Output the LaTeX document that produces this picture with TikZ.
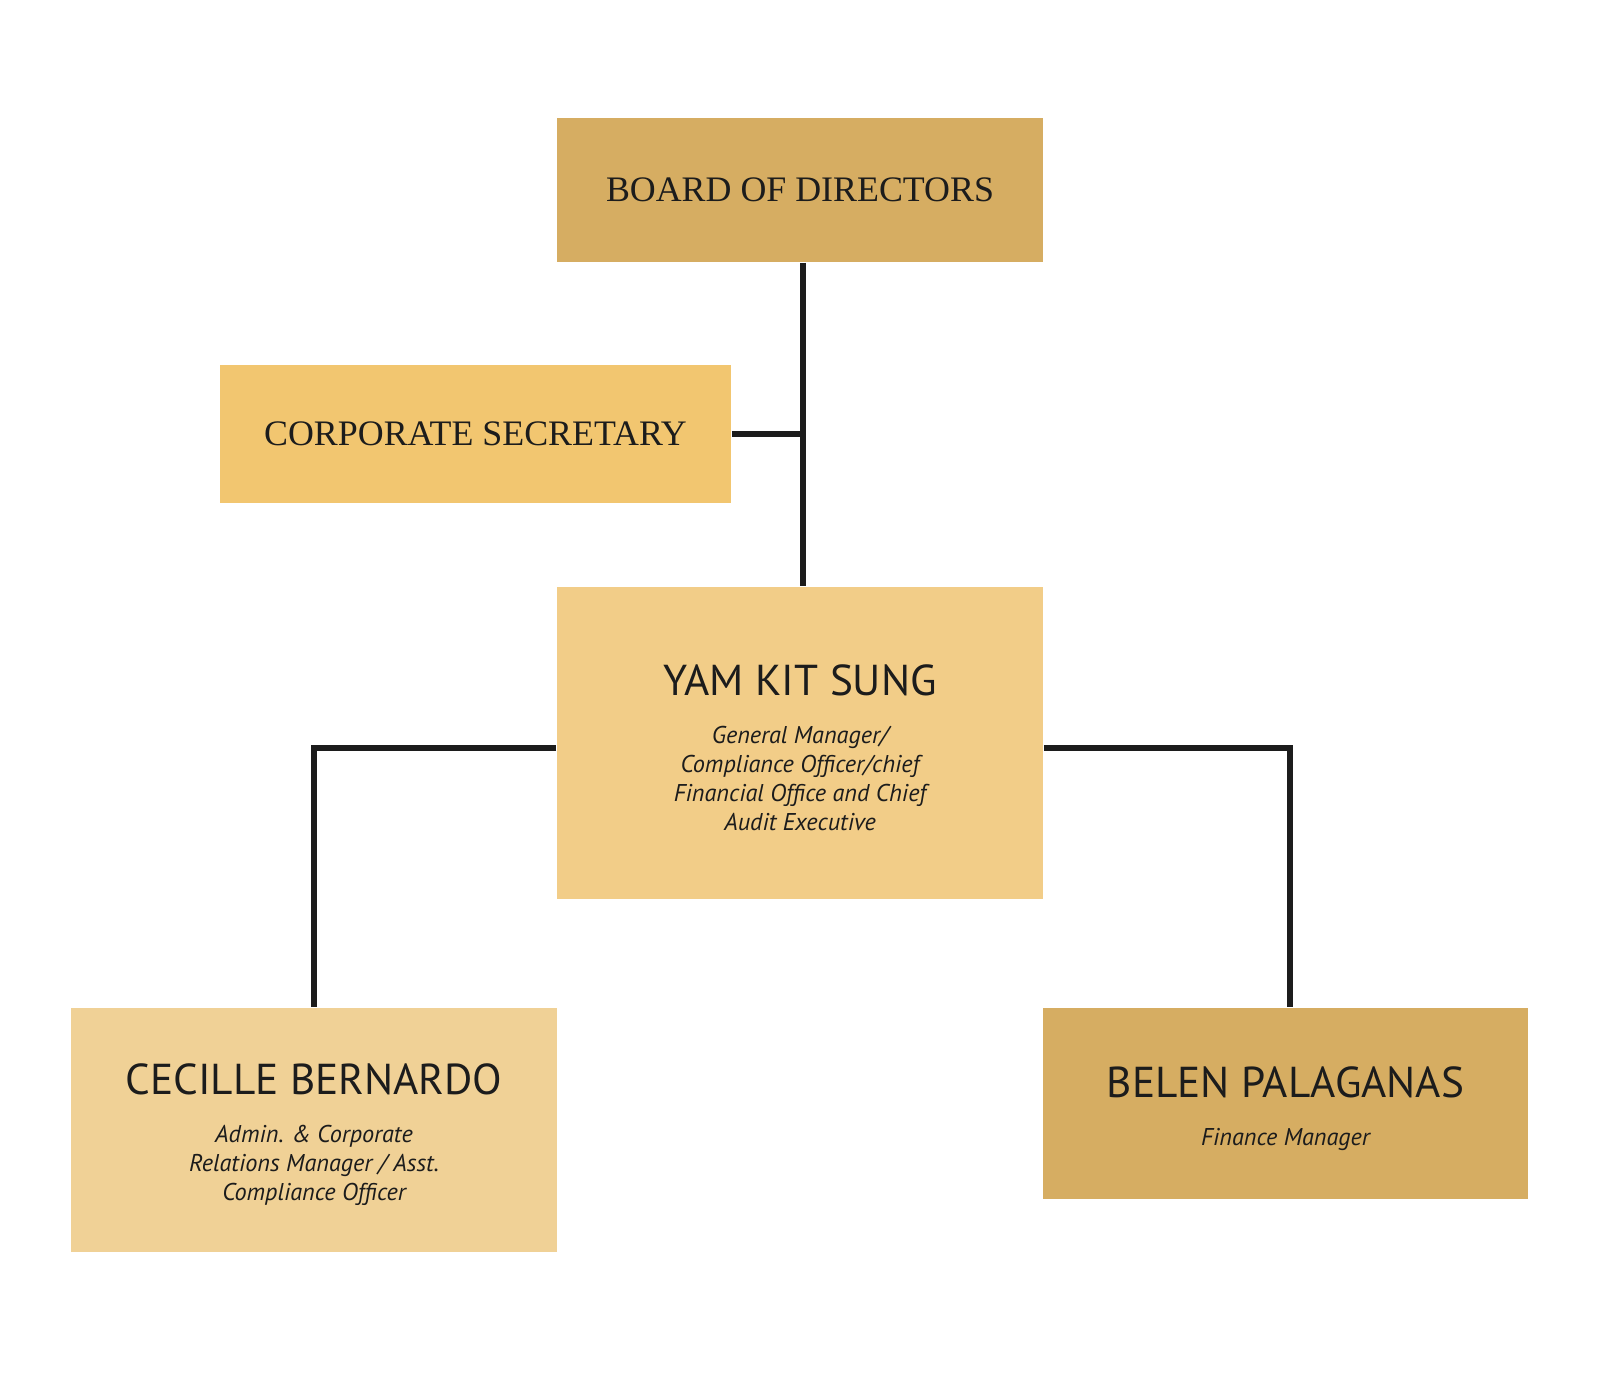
\documentclass[tikz,border=0pt]{standalone}
\usepackage{fontspec}
\setmainfont{Liberation Serif}
\newfontfamily\namefont{PT Sans}
\definecolor{gold}{HTML}{D6AD62}
\definecolor{sand}{HTML}{F2C670}
\definecolor{wheat}{HTML}{F2CD88}
\definecolor{cream}{HTML}{F0D196}
\definecolor{ink}{HTML}{1C1C1C}
\newcommand{\pname}[1]{{\upshape\fontsize{12.3}{14}\selectfont\rule{0pt}{11.5pt}#1}}
\tikzset{x=0.01cm, y=-0.01cm,
  title/.style={rectangle, inner sep=0pt, text=ink, font=\fontsize{10.2}{12}\selectfont},
  person/.style={rectangle, inner sep=0pt, text=ink, align=center, font=\namefont\itshape\fontsize{6.9}{8.2}\selectfont},
  link/.style={draw=ink, line width=0.06cm}}

\begin{document}
\begin{tikzpicture}
\path[fill=white] (0,0) rectangle (1600,1384);
\node[title, fill=gold, minimum width=4.86cm, minimum height=1.44cm] (bod) at (800,190) {BOARD OF DIRECTORS};
\node[title, fill=sand, minimum width=5.11cm, minimum height=1.38cm] (cs) at (475.5,434) {CORPORATE SECRETARY};
\node[person, fill=wheat, minimum width=4.86cm, minimum height=3.12cm] (gm) at (800,743)
  {\pname{YAM KIT SUNG}\\[5.5pt] General Manager/\\Compliance Officer/chief\\Financial Office and Chief\\Audit Executive};
\node[person, fill=cream, minimum width=4.86cm, minimum height=2.44cm] (ac) at (314,1130)
  {\pname{CECILLE BERNARDO}\\[5.5pt] Admin. \& Corporate\\Relations Manager / Asst.\\Compliance Officer};
\node[person, fill=gold, minimum width=4.85cm, minimum height=1.91cm] (fm) at (1285.5,1103.5)
  {\pname{BELEN PALAGANAS}\\[5.5pt] Finance Manager};
\coordinate (t) at (803,435);
\draw[link] (bod.south -| t) -- (gm.north -| t);
\draw[link] (cs.east) -- (cs.east -| t);
\draw[link] ([yshift=-0.05cm]gm.west) -| (ac.north);
\draw[link] ([yshift=-0.05cm]gm.east) -| ([xshift=0.04cm]fm.north);
\end{tikzpicture}
\end{document}
